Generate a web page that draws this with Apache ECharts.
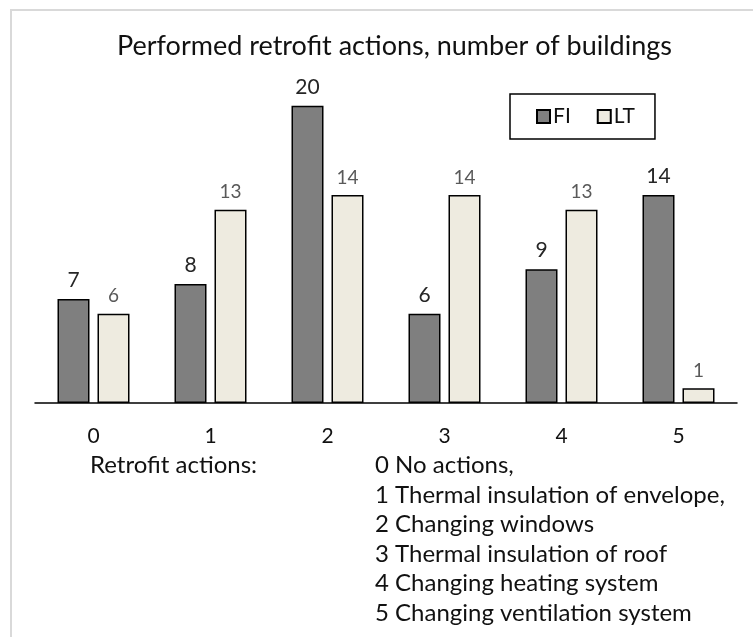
<!DOCTYPE html>
<html>
<head>
<meta charset="utf-8">
<script src="https://cdn.jsdelivr.net/npm/echarts@6/dist/echarts.min.js"></script>
<style>
  html, body { margin: 0; padding: 0; background: #fff; }
  #chart { width: 753px; height: 637px; }
</style>
</head>
<body>
<div id="chart"></div>
<script>
// categories and values
const categories = ['0', '1', '2', '3', '4', '5'];
const fiValues = [7, 8, 20, 6, 9, 14];
const ltValues = [6, 13, 14, 14, 13, 1];
const legendNames = ['FI', 'LT'];
const actionLines = [
  '0 No actions,',
  '1 Thermal insulation of envelope,',
  '2 Changing windows',
  '3 Thermal insulation of roof',
  '4 Changing heating system',
  '5 Changing ventilation system'
];

const fontFamily = 'Lato, "Open Sans", sans-serif';

const chart = echarts.init(document.getElementById('chart'));

const option = {
  animation: false,
  backgroundColor: '#fff',
  textStyle: { fontFamily: fontFamily },
  title: {
    text: 'Performed retrofit actions, number of buildings',
    left: 112,
    top: 28,
    textStyle: { fontSize: 27, fontWeight: 'normal', color: '#111', fontFamily: fontFamily }
  },
  legend: {
    data: legendNames,
    left: 510,
    top: 94,
    width: 148,
    padding: [12, 20, 12, 26],
    itemWidth: 13,
    itemHeight: 13,
    itemGap: 26,
    borderColor: '#000',
    borderWidth: 1.5,
    icon: 'rect',
    textStyle: { fontSize: 21, color: '#111', padding: [0, 0, 0, -2] }
  },
  grid: {
    left: 35,
    right: 16,
    top: 76,
    bottom: 234,
    containLabel: false
  },
  xAxis: {
    type: 'category',
    data: categories,
    axisLine: { lineStyle: { color: '#000', width: 1.5 } },
    axisTick: { show: false },
    axisLabel: { fontSize: 21, color: '#111', margin: 23 }
  },
  yAxis: {
    type: 'value',
    min: 0,
    max: 22,
    show: false,
    splitLine: { show: false }
  },
  series: [
    {
      name: 'FI',
      type: 'bar',
      data: fiValues,
      barWidth: 32,
      barGap: '25%',
      itemStyle: { color: '#7f7f7f', borderColor: '#000', borderWidth: 1.5 },
      label: { show: true, position: 'top', distance: 8, fontSize: 21, color: '#262626' }
    },
    {
      name: 'LT',
      type: 'bar',
      data: ltValues,
      barWidth: 32,
      itemStyle: { color: '#eeebe0', borderColor: '#000', borderWidth: 1.5 },
      label: { show: true, position: 'top', distance: 8, fontSize: 19, color: '#595959' }
    }
  ],
  graphic: [
    // light frame around the chart area
    { type: 'line', shape: { x1: 10, y1: 10, x2: 753, y2: 10 }, style: { stroke: '#d9d9d9', lineWidth: 2 } },
    { type: 'line', shape: { x1: 11, y1: 10, x2: 11, y2: 637 }, style: { stroke: '#d9d9d9', lineWidth: 2 } },
    {
      type: 'text',
      left: 90,
      top: 451,
      style: { text: 'Retrofit actions:', fontSize: 24, lineHeight: 29.5, fill: '#111', fontFamily: fontFamily }
    },
    {
      type: 'text',
      left: 375,
      top: 451,
      style: {
        text: actionLines.join('\n'),
        fontSize: 24,
        lineHeight: 29.5,
        fill: '#111',
        fontFamily: fontFamily
      }
    }
  ]
};

chart.setOption(option);
</script>
</body>
</html>
